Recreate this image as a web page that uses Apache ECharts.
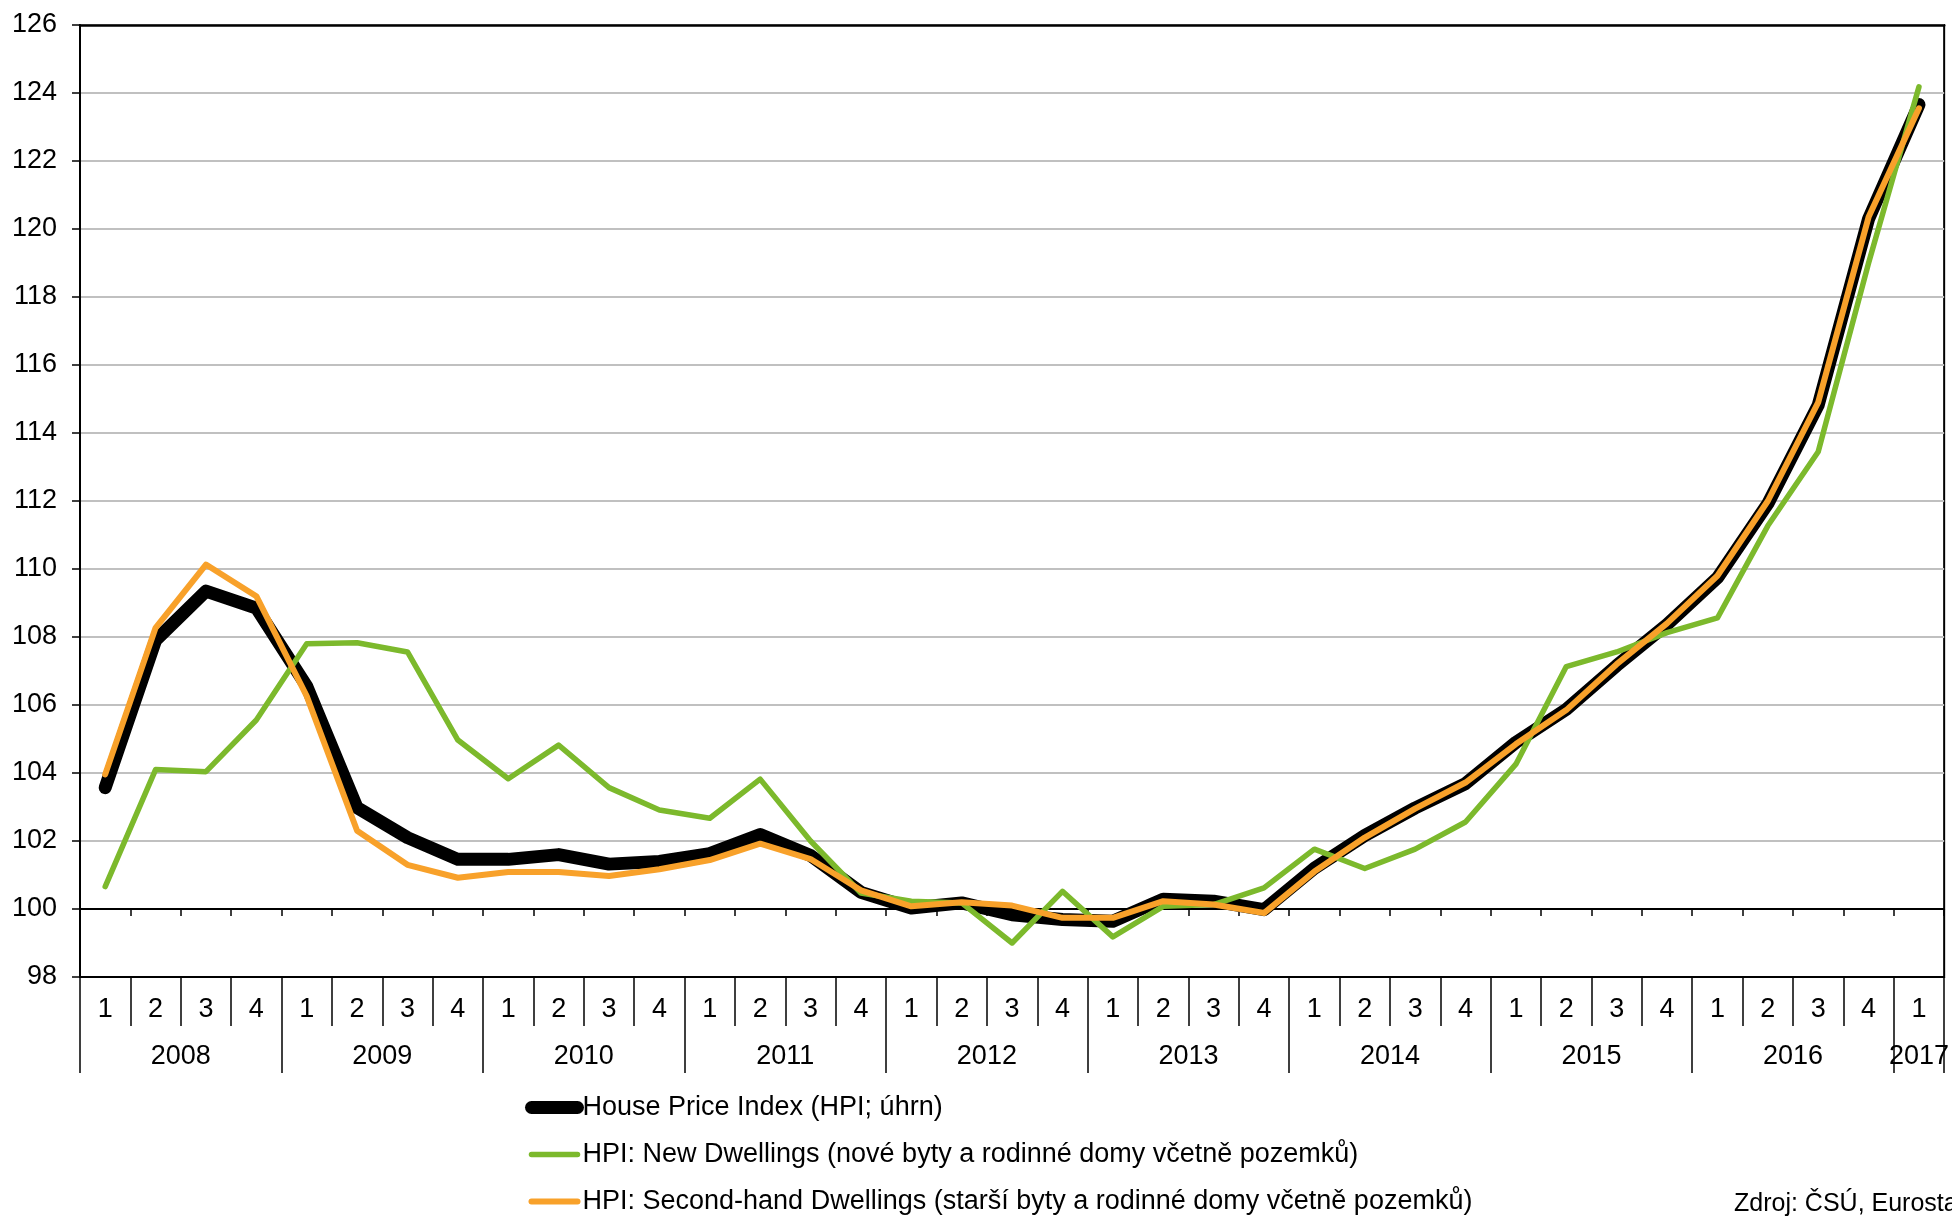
<!DOCTYPE html>
<html>
<head>
<meta charset="utf-8">
<script src="https://cdn.jsdelivr.net/npm/echarts@6/dist/echarts.min.js"></script>
<style>
html,body{margin:0;padding:0;background:#fff;}
#chart{width:1952px;height:1216px;}
</style>
</head>
<body>
<div id="chart"></div>
<script>
// ---- data ----
const years = ['2008','2009','2010','2011','2012','2013','2014','2015','2016','2017'];
const quartersPerYear = [4,4,4,4,4,4,4,4,4,1];
const quarterLabels = ['1','2','3','4'];

const hpiTotal = [
  103.57,107.9,109.35,108.85,
  106.55,102.98,102.1,101.46,
  101.46,101.6,101.32,101.4,
  101.63,102.19,101.57,100.49,
  100.03,100.18,99.83,99.69,
  99.64,100.29,100.23,99.98,
  101.2,102.16,102.97,103.69,
  104.9,105.87,107.16,108.37,
  109.74,111.92,114.82,120.3,
  123.66
];
const hpiNew = [
  100.66,104.1,104.04,105.56,
  107.8,107.83,107.56,104.97,
  103.83,104.82,103.57,102.91,
  102.67,103.82,102.0,100.47,
  100.23,100.18,99.0,100.52,
  99.18,100.08,100.13,100.62,
  101.76,101.19,101.76,102.56,
  104.26,107.13,107.56,108.13,
  108.56,111.27,113.45,119.0,
  124.18
];
const hpiSecond = [
  103.96,108.27,110.13,109.2,
  106.26,102.3,101.3,100.92,
  101.09,101.09,100.97,101.17,
  101.44,101.92,101.47,100.55,
  100.08,100.2,100.1,99.74,
  99.74,100.23,100.13,99.88,
  101.1,102.1,102.95,103.72,
  104.85,105.85,107.2,108.4,
  109.8,112.0,114.9,120.35,
  123.55
];
const seriesNames = [
  'House Price Index (HPI; úhrn)',
  'HPI: New Dwellings (nové byty a rodinné domy včetně pozemků)',
  'HPI: Second-hand Dwellings (starší byty a rodinné domy včetně pozemků)'
];
const yTicks = {min: 98, max: 126, interval: 2};
const sourceText = 'Zdroj: ČSÚ, Eurostat';

// ---- derived axis data ----
const categories = [];
years.forEach((y, j) => {
  for (let q = 0; q < quartersPerYear[j]; q++) categories.push(y + ' Q' + quarterLabels[q]);
});
const nCat = categories.length;
const halfData = [];
for (let k = 0; k <= 2 * nCat; k++) halfData.push('h' + k);
const yearLabelAt = {};
const yearBoundary = {};
let s = 0;
years.forEach((y, j) => {
  yearLabelAt[2 * s + quartersPerYear[j]] = y;
  yearBoundary[2 * s] = true;
  s += quartersPerYear[j];
});
yearBoundary[2 * s] = true;

const W = 1952, H = 1216;
const gridL = 80, gridR = 4, gridT = 25, gridB = 239;
const gridH = H - gridT - gridB;
const unitPx = gridH / (yTicks.max - yTicks.min);
const axis100Offset = -(100 - yTicks.min) * unitPx;

const FONT = '"Liberation Sans", Arial, sans-serif';
const FS = 27;

const chart = echarts.init(document.getElementById('chart'), null, {renderer: 'canvas'});
chart.setOption({
  animation: false,
  backgroundColor: '#ffffff',
  textStyle: {fontFamily: FONT},
  grid: {left: gridL, right: gridR, top: gridT, bottom: gridB, show: true,
         borderColor: '#000', borderWidth: 2, backgroundColor: 'transparent'},
  legend: {
    orient: 'vertical', left: 525, top: 1094, itemWidth: 46, itemHeight: 14, itemGap: 20,
    padding: 0,
    itemStyle: {opacity: 0},
    lineStyle: {width: 'inherit', cap: 'round'},
    textStyle: {fontSize: FS, color: '#000', fontFamily: FONT},
    data: seriesNames
  },
  xAxis: [
    { // quarters row at bottom
      type: 'category', data: categories, position: 'bottom', boundaryGap: true,
      axisLine: {show: true, lineStyle: {color: '#000', width: 2}},
      axisTick: {show: true, length: 49, interval: 0, lineStyle: {color: '#000', width: 1.5}},
      axisLabel: {show: true, interval: 0, margin: 19, fontSize: FS, color: '#000',
        fontFamily: FONT, formatter: v => v.split(' Q')[1]},
      splitLine: {show: false}
    },
    { // axis line crossing at 100
      type: 'category', data: categories, position: 'bottom', offset: axis100Offset, boundaryGap: true,
      axisLine: {show: true, lineStyle: {color: '#000', width: 2}},
      axisTick: {show: true, length: 7, interval: 0, lineStyle: {color: '#000', width: 1.5}},
      axisLabel: {show: false}, splitLine: {show: false}, z: 3
    },
    { // year row
      type: 'category', data: halfData, position: 'bottom', boundaryGap: false,
      axisLine: {show: false},
      axisTick: {show: true, length: 96, interval: (i) => !!yearBoundary[i],
        lineStyle: {color: '#000', width: 1.5}},
      axisLabel: {show: true, margin: 66, fontSize: FS, color: '#000', fontFamily: FONT,
        interval: (i) => yearLabelAt[i] !== undefined,
        formatter: (v) => { const k = parseInt(v.slice(1), 10); return yearLabelAt[k] || ''; }},
      splitLine: {show: false}
    },
    { // top border
      type: 'category', data: categories, position: 'top', boundaryGap: true,
      axisLine: {show: true, lineStyle: {color: '#000', width: 2.5}},
      axisTick: {show: false}, axisLabel: {show: false}, splitLine: {show: false}, z: 3
    }
  ],
  yAxis: {
    type: 'value', min: yTicks.min, max: yTicks.max, interval: yTicks.interval,
    axisLine: {show: true, lineStyle: {color: '#000', width: 2}},
    axisTick: {show: true, length: 8, lineStyle: {color: '#000', width: 1.5}},
    axisLabel: {fontSize: FS, color: '#000', margin: 23, fontFamily: FONT},
    splitLine: {show: true, lineStyle: {color: '#c0c0c0', width: 2}}
  },
  series: [
    {name: seriesNames[0], type: 'line', data: hpiTotal, xAxisIndex: 0, symbol: 'none',
     lineStyle: {color: '#000000', width: 13, cap: 'round', join: 'round'},
     itemStyle: {color: '#000000'}, z: 3},
    {name: seriesNames[1], type: 'line', data: hpiNew, xAxisIndex: 0, symbol: 'none',
     lineStyle: {color: '#7cb92c', width: 5.5, cap: 'round', join: 'round'},
     itemStyle: {color: '#7cb92c'}, z: 4},
    {name: seriesNames[2], type: 'line', data: hpiSecond, xAxisIndex: 0, symbol: 'none',
     lineStyle: {color: '#f8a12a', width: 6, cap: 'round', join: 'round'},
     itemStyle: {color: '#f8a12a'}, z: 5}
  ],
  graphic: [
    {type: 'text', left: 1734, top: 1192,
     style: {text: sourceText, fontSize: 25, fill: '#000', fontFamily: FONT}}
  ]
});
</script>
</body>
</html>
